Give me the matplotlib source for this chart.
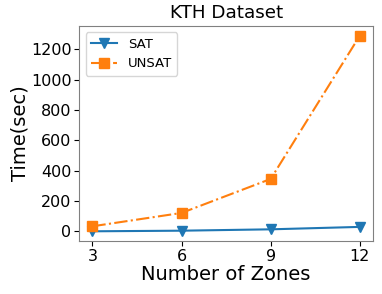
import matplotlib
matplotlib.use("Agg")
import matplotlib.pyplot as plt

# data
zones = [3, 6, 9, 12]
sat_time = [0, 4, 13, 29]
unsat_time = [33, 121, 345, 1289]

fig, ax = plt.subplots(figsize=(3.82, 2.94), dpi=100)
ax.plot(zones, sat_time, color="#1f77b4", linestyle="-", marker="v",
        markersize=7, label="SAT")
ax.plot(zones, unsat_time, color="#ff7f0e", linestyle="-.", marker="s",
        markersize=7, label="UNSAT")

ax.set_xticks(zones)
ax.set_yticks(range(0, 1201, 200))
ax.tick_params(labelsize=11.5, pad=2)
ax.set_xlabel("Number of Zones", fontsize=14, labelpad=1)
ax.set_ylabel("Time(sec)", fontsize=14, labelpad=1)
ax.set_title("KTH Dataset", fontsize=13.2)
for s in ax.spines.values():
    s.set_color("#808080")
ax.legend(loc="upper left", fontsize=9.5)

plt.subplots_adjust(left=0.207, right=0.977, top=0.912, bottom=0.18)
plt.savefig("out.png", dpi=100)
